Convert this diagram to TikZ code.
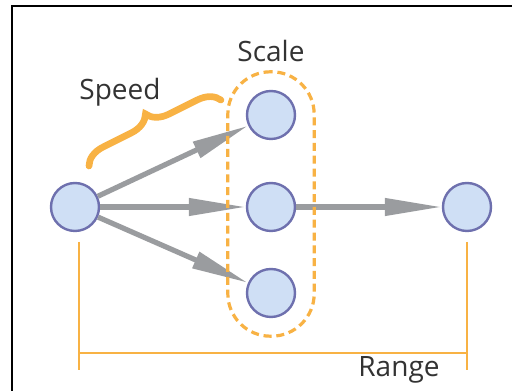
\documentclass[tikz,border=0pt]{standalone}
\usepackage{fontspec}
\setmainfont{Open Sans}
\usetikzlibrary{arrows.meta,decorations.pathreplacing,fit}
\definecolor{nodefill}{HTML}{CFDFF5}
\definecolor{nodeedge}{HTML}{6E70AE}
\definecolor{arrowgray}{HTML}{9A9C9F}
\definecolor{accent}{HTML}{F8B244}
\definecolor{txt}{HTML}{333333}
\begin{document}
\begin{tikzpicture}[x=0.75pt,y=-0.75pt,
  unit/.style={circle,draw=nodeedge,fill=nodefill,line width=1.8pt,minimum size=36pt,inner sep=0pt},
  flow/.style={draw=arrowgray,line width=3.9pt,-{Triangle[length=42.75pt,width=12.5pt]}},
  lbl/.style={font=\fontsize{21}{25}\selectfont,text=txt,inner sep=0pt},
  group/.style={draw=accent,line width=2.4pt,dash pattern=on 6pt off 3.6pt,rounded corners=32pt,inner sep=13.5pt},
  rangeline/.style={draw=accent,line width=1.6pt},
  bracestyle/.style={draw=accent,line width=5pt,line cap=round,decorate,decoration={brace,amplitude=16pt}}]
\useasboundingbox (0,0) rectangle (512,391);
\fill[white] (0,0) rectangle (512,391);
\draw[black,line width=1.6pt] (12,391) -- (12,6) -- (512,6);

\node[unit] (src) at (75,207) {};
\node[unit] (mt) at (271,115) {};
\node[unit] (mm) at (271,207) {};
\node[unit] (mb) at (271,293) {};
\node[unit] (dst) at (467,207) {};

\draw[flow] (src) -- (mt);
\draw[flow] (src) -- (mm);
\draw[flow] (src) -- (mb);
\draw[flow] (mm) -- (dst);

\node[group,fit=(mt)(mb)] (scalebox) {};

\coordinate (bs) at (89,166);
\coordinate (be) at (221,100);
\draw[bracestyle] (bs) -- (be);

\node[lbl] (speed) at (120,92) {Speed};
\node[lbl] (scale) at (271,51) {Scale};
\node[lbl] (range) at (399,370) {Range};

\coordinate (rlt) at (79,242);
\coordinate (rlb) at (79,370);
\coordinate (rrt) at (467,242);
\coordinate (rrb) at (467,370);
\coordinate (rlm) at (79,353);
\coordinate (rrm) at (467,353);
\draw[rangeline] (rlt) -- (rlb);
\draw[rangeline] (rrt) -- (rrb);
\draw[rangeline] (rlm) -- (rrm);
\end{tikzpicture}
\end{document}
